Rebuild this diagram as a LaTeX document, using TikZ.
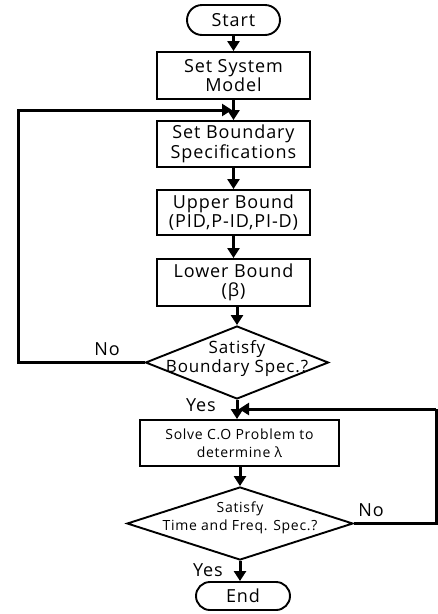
\documentclass[tikz,border=0pt]{standalone}
\usepackage{fontspec}
\setmainfont{Open Sans}[LetterSpace=5]
\usetikzlibrary{shapes.misc,shapes.geometric,arrows.meta,calc}
\begin{document}
\begin{tikzpicture}[x=1pt,y=-1pt,
  box/.style={draw,line width=1.9pt,align=center,inner sep=0pt,font=\fontsize{18}{19.5}\selectfont},
  term/.style={draw,line width=1.9pt,rounded rectangle,inner sep=0pt,font=\fontsize{18}{19.5}\selectfont},
  dia/.style={draw,line width=1.9pt,diamond,inner sep=0pt},
  txt/.style={align=center,inner sep=0pt},
  arr/.style={line width=3pt,-{Triangle[width=12pt,length=10pt]}},
  lin/.style={line width=3pt},
  lab/.style={inner sep=0pt,font=\fontsize{18}{19}\selectfont}]
\useasboundingbox (0,0) rectangle (438,614);
\node[term,minimum width=93pt,minimum height=30pt] (start) at (233.5,20) {Start};
\node[box,minimum width=153pt,minimum height=47pt] (sys) at (233.5,75.5) {Set System\\Model};
\node[box,minimum width=153pt,minimum height=46pt] (bnd) at (233.5,144) {Set Boundary\\Specifications};
\node[box,minimum width=153pt,minimum height=45pt] (up) at (233.5,212.5) {Upper Bound\\(PID,P-ID,PI-D)};
\node[box,minimum width=153pt,minimum height=47pt] (low) at (233.5,282.5) {Lower Bound\\(β)};
\node[dia,minimum width=183pt,minimum height=73pt,aspect=2.5] (d1) at (237,362.5) {};
\node[txt,font=\fontsize{17}{19}\selectfont] (d1t) at (237,358.5) {Satisfy\\Boundary Spec.?};
\node[box,minimum width=199pt,minimum height=46pt,font=\fontsize{14}{17.5}\selectfont] (solve) at (239.5,443) {Solve C.O Problem to\\determine λ};
\node[dia,minimum width=226pt,minimum height=73pt,aspect=3.1] (d2) at (240,523.5) {};
\node[txt,font=\fontsize{14}{17.5}\selectfont] (d2t) at (240,518) {Satisfy\\Time and Freq. Spec.?};
\node[term,minimum width=94pt,minimum height=28pt] (end) at (243,596) {End};
\node[lab] (no1) at (107,349) {No};
\node[lab] (yes1) at (201,405) {Yes};
\node[lab] (no2) at (371,510) {No};
\node[lab] (yes2) at (208,570) {Yes};
\coordinate (j1) at ($(sys.south)!0.5!(bnd.north)$);
\coordinate (j2) at (d1.south |- 0,409);
\coordinate (l1) at (18,0);
\coordinate (r2) at (436,0);
\draw[arr] (start.south) -- (start.south |- sys.north);
\draw[arr] (sys.south) -- (sys.south |- bnd.north);
\draw[arr] (bnd.south) -- (bnd.south |- up.north);
\draw[arr] (up.south) -- (up.south |- low.north);
\draw[arr] (low.south -| d1.north) -- (d1.north);
\draw[arr] (d1.south) -- (d1.south |- solve.north);
\draw[arr] (solve.south -| d2.north) -- (d2.north);
\draw[arr] (d2.south) -- (d2.south |- end.north);
\draw[lin] (d1.west) -- (d1.west -| l1) -- (l1 |- j1) -- ++(1.5,0);
\draw[arr] (l1 |- j1) -- ([xshift=-1.5pt]j1);
\draw[lin] (d2.east) -- (d2.east -| r2) -- (r2 |- j2);
\draw[arr] (r2 |- j2) -- ([xshift=2pt]j2);
\end{tikzpicture}
\end{document}
